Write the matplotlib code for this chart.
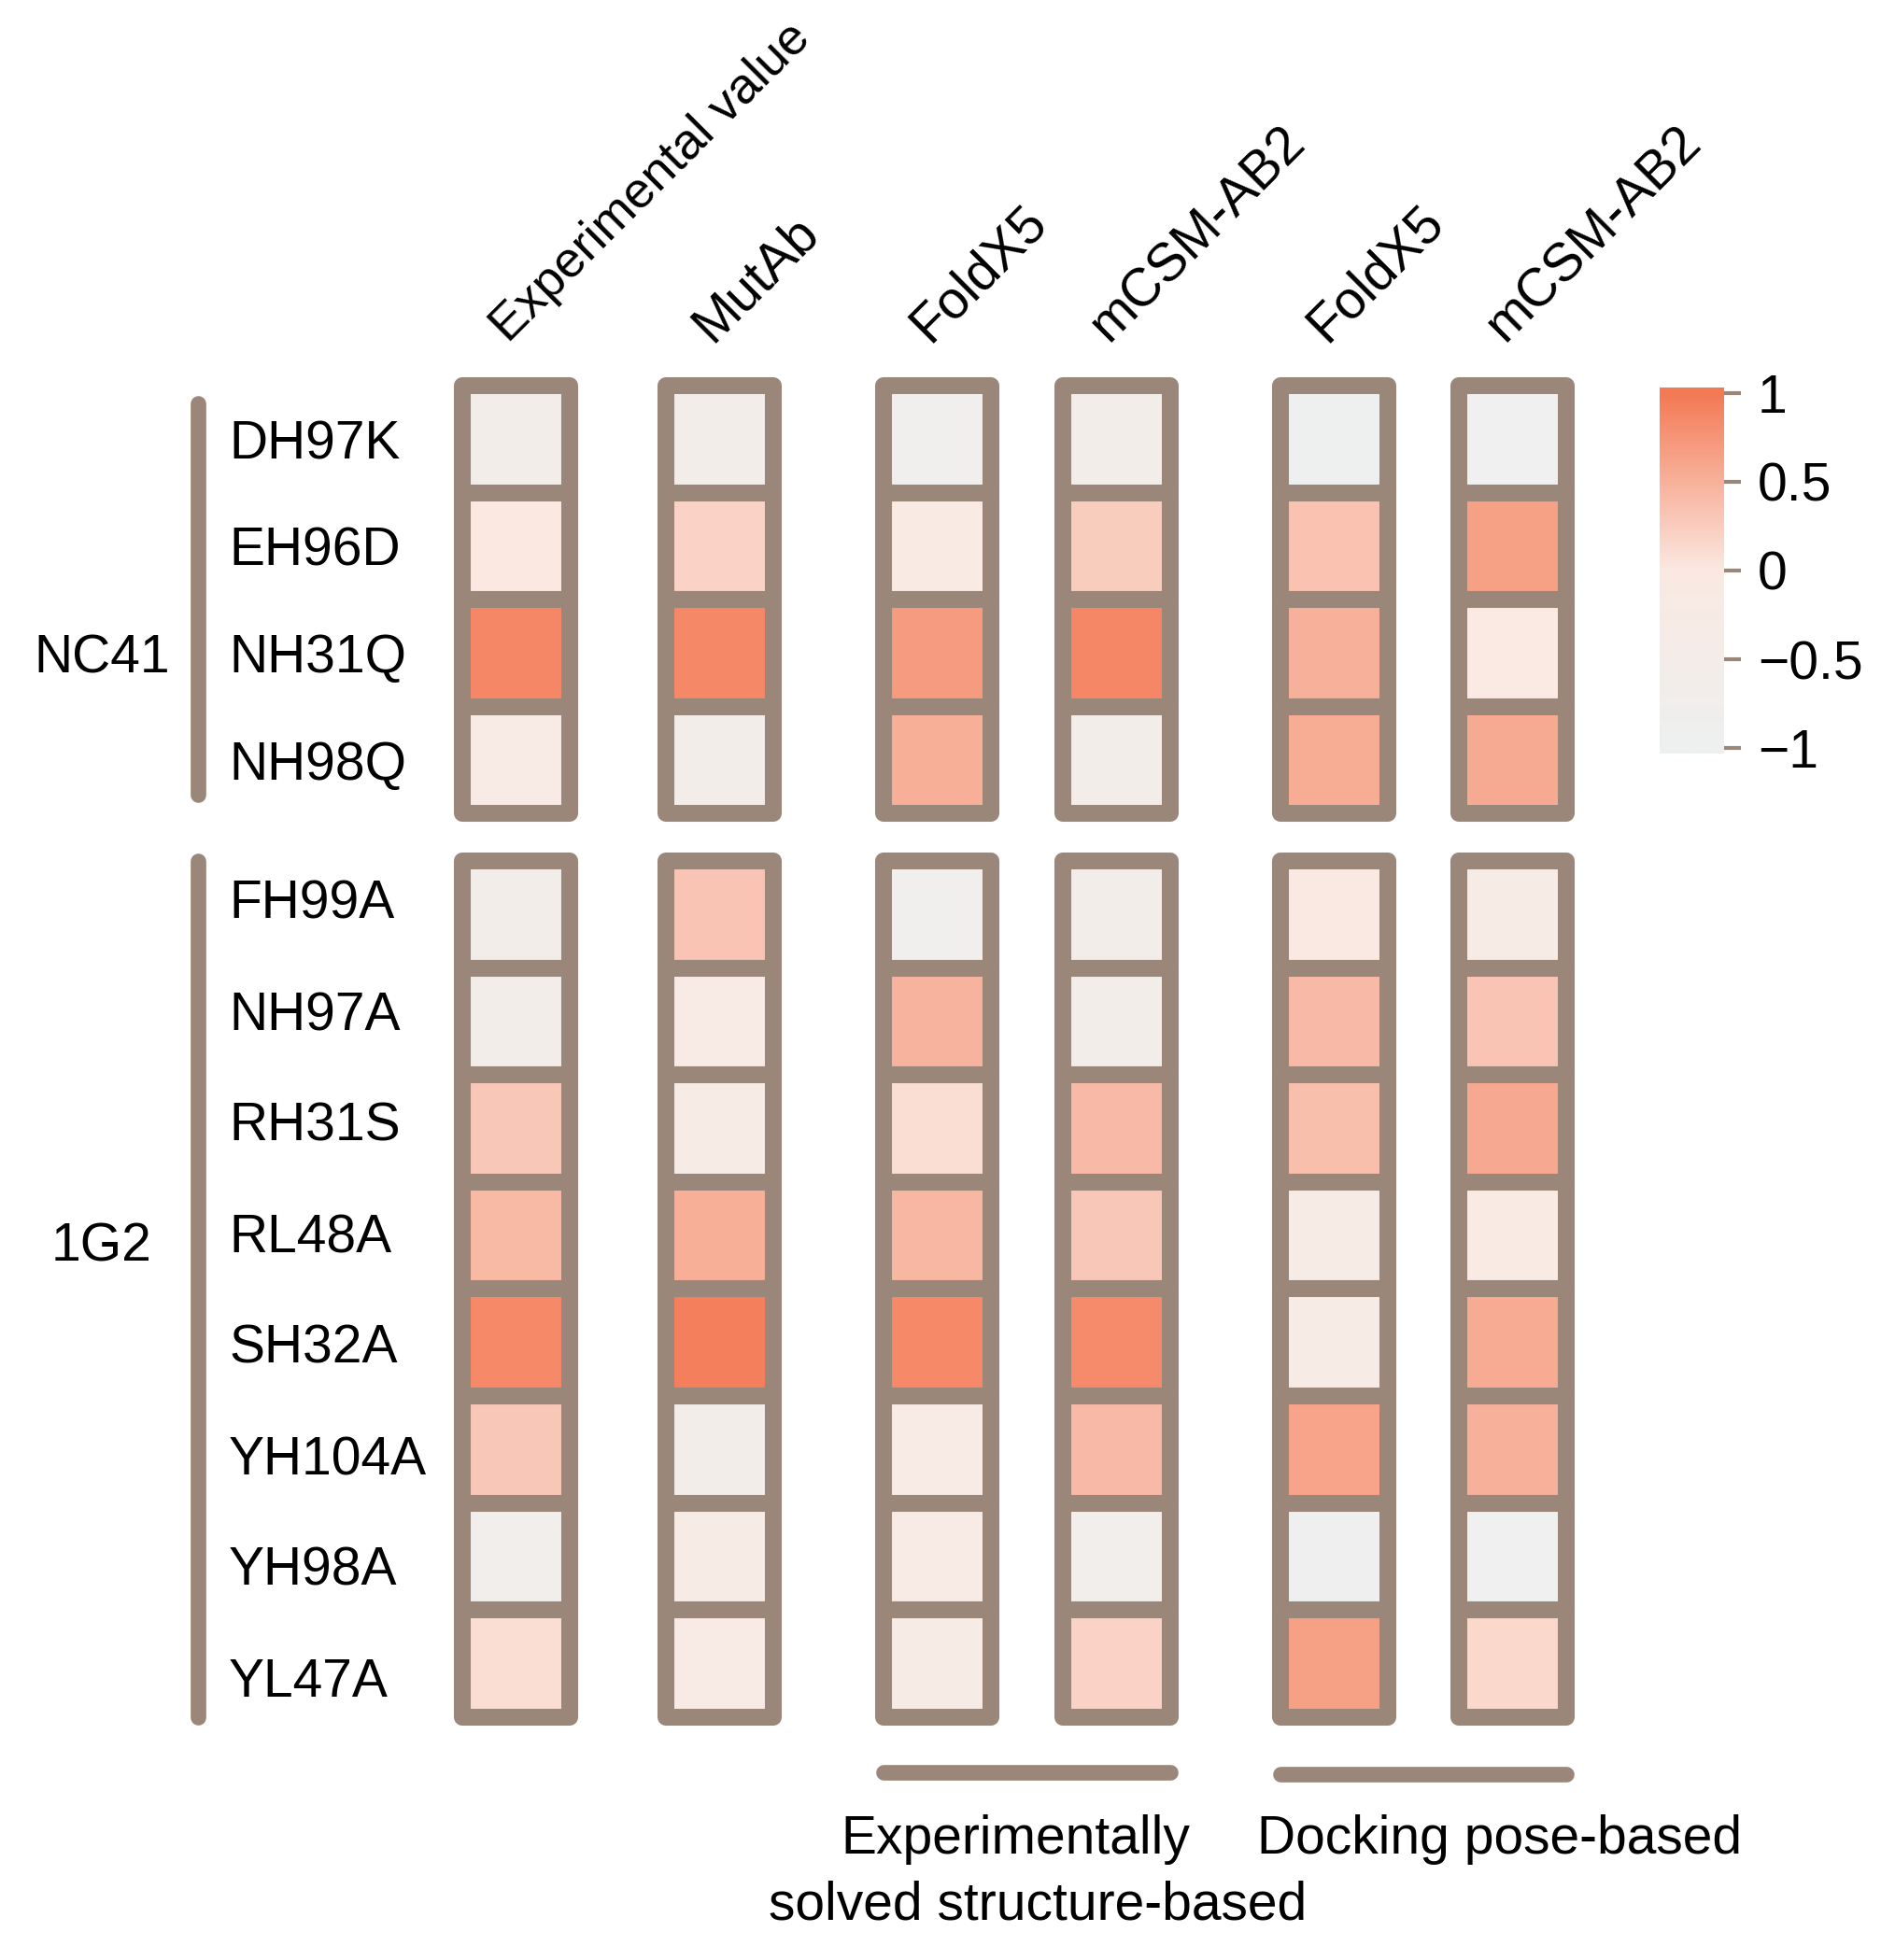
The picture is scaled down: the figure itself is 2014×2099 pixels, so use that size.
import numpy as np
import matplotlib
matplotlib.use('Agg')
import matplotlib.pyplot as plt
from matplotlib.colors import LinearSegmentedColormap, Normalize
from matplotlib.patches import Rectangle

plt.rcParams['font.family'] = ['Liberation Sans', 'DejaVu Sans']

## data: one row per mutation, one column per method
methods = ['Experimental value', 'MutAb', 'FoldX5', 'mCSM-AB2', 'FoldX5', 'mCSM-AB2']
groups = ['NC41', '1G2']
nc41_mut = ['DH97K', 'EH96D', 'NH31Q', 'NH98Q']
g2_mut = ['FH99A', 'NH97A', 'RH31S', 'RL48A', 'SH32A', 'YH104A', 'YH98A', 'YL47A']

nc41_vals = np.array([
    [-0.60, -0.60, -0.85, -0.60, -1.00, -0.95],
    [ 0.00,  0.20, -0.15,  0.25,  0.35,  0.65],
    [ 0.88,  0.87,  0.70,  0.88,  0.50, -0.10],
    [-0.25, -0.60,  0.52, -0.60,  0.55,  0.57],
])
g2_vals = np.array([
    [-0.60,  0.33, -0.80, -0.60, -0.05, -0.30],
    [-0.60, -0.25,  0.48, -0.60,  0.42,  0.33],
    [ 0.30, -0.30,  0.10,  0.42,  0.38,  0.58],
    [ 0.43,  0.52,  0.45,  0.30, -0.30, -0.15],
    [ 0.86,  0.95,  0.86,  0.84, -0.30,  0.56],
    [ 0.30, -0.60, -0.25,  0.42,  0.62,  0.50],
    [-0.70, -0.30, -0.20, -0.65, -0.90, -0.95],
    [ 0.10, -0.25, -0.30,  0.20,  0.65,  0.15],
])
source_names = ['Experimentally', 'solved structure-based', 'Docking pose-based']
cbar_ticks = [-1, -0.5, 0, 0.5, 1]
cbar_labels = ['\u22121', '\u22120.5', '0', '0.5', '1']

## layout (pixels)
W, H = 2015, 2099
CELL = 114.6
col_left = [495, 713, 946, 1138, 1371, 1562]
block_top = [413, 922]
# row labels are not spaced exactly like the cells in the original
label_first = [470, 963]
label_step = [CELL, 119]
brown = '#9B877A'
fs = 41

cmap = LinearSegmentedColormap.from_list(
    'ddg', [(0, '#EEF0F0'), (0.5, '#FBE9E2'), (1, '#F47A55')])
norm = Normalize(-1, 1)

fig = plt.figure(figsize=(W / 100, H / 100), dpi=100)
ax = fig.add_axes([0, 0, 1, 1])
ax.set_xlim(0, W)
ax.set_ylim(H, 0)
ax.axis('off')

blocks = [(nc41_mut, nc41_vals), (g2_mut, g2_vals)]
for b, (muts, vals) in enumerate(blocks):
    top = block_top[b]
    for j, x0 in enumerate(col_left):
        for i in range(len(muts)):
            ax.add_patch(Rectangle((x0, top + i * CELL), CELL, CELL,
                                   facecolor=cmap(norm(vals[i, j])),
                                   edgecolor=brown, lw=13, joinstyle='round'))
    for i, m in enumerate(muts):
        yc = label_first[b] + i * label_step[b]
        ax.text(245, yc + 21, m, fontsize=fs, ha='left', va='baseline')

# group bars + labels on the left
ax.plot([212, 212], [432, 851], color=brown, lw=12, solid_capstyle='round')
ax.plot([212, 212], [block_top[1], block_top[1] + 8 * CELL], color=brown, lw=12,
        solid_capstyle='round')
ax.text(109, block_top[0] + 2.5 * CELL + 21, groups[0], fontsize=fs, ha='center', va='baseline')
ax.text(109, block_top[1] + 3.5 * CELL + 27, groups[1], fontsize=fs, ha='center', va='baseline')

# column headers
for j, name in enumerate(methods):
    size = 39 if j == 0 else fs
    ax.text(col_left[j] + CELL / 2 - 8, 368, name, fontsize=size, rotation=45,
            rotation_mode='anchor', ha='left', va='baseline')

# bottom brackets
ax.plot([col_left[2], col_left[3] + CELL], [1898, 1898], color=brown, lw=12,
        solid_capstyle='round')
ax.plot([col_left[4], col_left[5] + CELL], [1900, 1900], color=brown, lw=12,
        solid_capstyle='round')
ax.text(1087, 1985, source_names[0], fontsize=fs, ha='center', va='baseline')
ax.text(1111, 2055, source_names[1], fontsize=fs, ha='center', va='baseline')
ax.text(1606, 1985, source_names[2], fontsize=fs, ha='center', va='baseline')

# colour bar
cax = fig.add_axes([1777 / W, 1 - 807 / H, 69 / W, 392 / H])
ext = 1.031
cax.imshow(np.linspace(-ext, ext, 400)[:, None], aspect='auto', origin='lower',
           extent=(0, 1, -ext, ext), cmap=cmap, norm=norm)
cax.set_ylim(-ext, ext)
cax.set_xticks([])
cax.yaxis.tick_right()
cax.set_yticks(cbar_ticks)
cax.set_yticklabels(cbar_labels)
cax.tick_params(axis='y', length=13, width=3, color=brown, pad=13, labelsize=fs)
for s in cax.spines.values():
    s.set_visible(False)

fig.savefig('out.png', dpi=100)
